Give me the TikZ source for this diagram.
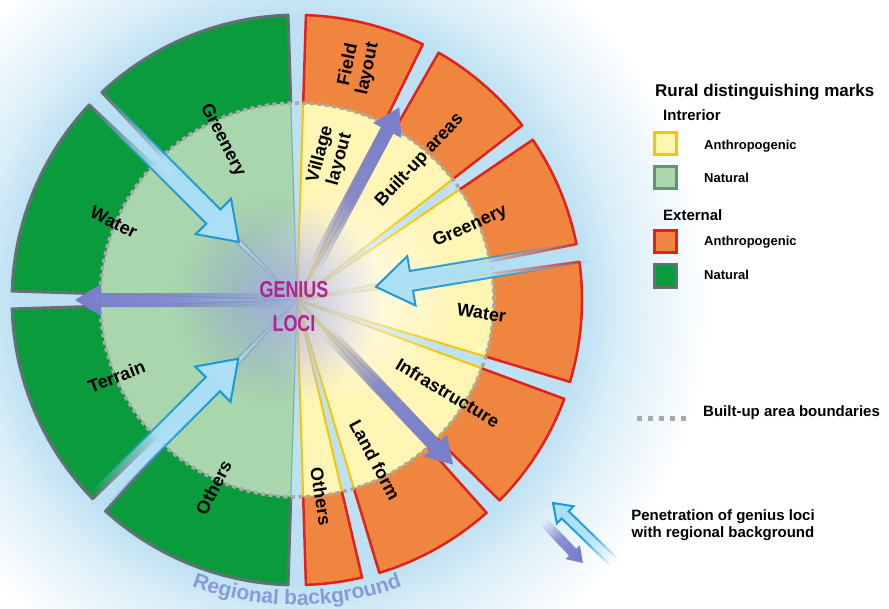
\documentclass[tikz,border=0pt]{standalone}
\usepackage{fontspec}
\setmainfont{Liberation Sans}
\usetikzlibrary{calc,fadings,decorations.text}

\definecolor{outgreen}{HTML}{0A9B3D}
\definecolor{ingreen}{HTML}{A9D6AC}
\definecolor{greenrim}{HTML}{627272}
\definecolor{ingreenrim}{HTML}{7DB892}
\definecolor{outorange}{HTML}{F0853F}
\definecolor{orangerim}{HTML}{E3211C}
\definecolor{inyellow}{HTML}{FFF5B5}
\definecolor{yellowrim}{HTML}{F6C600}
\definecolor{halo}{HTML}{BDE1F2}
\definecolor{haze}{HTML}{8A92E0}
\definecolor{genius}{HTML}{B3228D}
\definecolor{inflowfill}{HTML}{ABDFF7}
\definecolor{inflowrim}{HTML}{1C98D6}
\definecolor{outflowfill}{HTML}{7A7FCB}
\definecolor{regional}{HTML}{8A9AD6}
\definecolor{boundgray}{HTML}{A9A9A9}

\pgfdeclareradialshading{haloshade}{\pgfpoint{0bp}{0bp}}{color(0bp)=(halo); color(16.5bp)=(halo); color(19bp)=(halo!55!white); color(24bp)=(white); color(50bp)=(white)}

\tikzfading[name=tailfade, left color=transparent!100, right color=transparent!0, middle color=transparent!15]
\tikzfading[name=hazefade, inner color=transparent!20, outer color=transparent!100]
\tikzfading[name=softfade, inner color=transparent!35, outer color=transparent!100]

% style, tail, tip, fading angle, half shaft, half head, head length
\newcommand{\flowarrow}[7]{%
	\path ($(#3)!#7!(#2)$) coordinate (hb);
	\filldraw[#1, path fading=tailfade, fading angle=#4] ($(#2)!#5!90:(#3)$) -- ($(hb)!#5!90:(#3)$) -- ($(hb)!#6!90:(#3)$) -- (#3) -- ($(hb)!#6!-90:(#3)$) -- ($(hb)!#5!-90:(#3)$) -- ($(#2)!#5!-90:(#3)$) -- cycle;
}

\tikzset{
	inner natural/.style={fill=ingreen, draw=ingreenrim, line width=1.2pt},
	outer natural/.style={fill=outgreen},
	natural rim/.style={draw=greenrim, line width=3pt, line join=round},
	inner anthro/.style={fill=inyellow, draw=yellowrim, line width=2pt},
	outer anthro/.style={fill=outorange},
	anthro rim/.style={draw=orangerim, line width=2.5pt, line join=round},
	boundary/.style={draw=boundgray, line width=3.5pt, dash pattern=on 4pt off 3.5pt},
	lbl/.style={font=\bfseries\fontsize{18}{20}\selectfont, inner sep=0pt, align=center},
	geniustext/.style={font=\bfseries\fontsize{23}{23}\selectfont, text=genius, inner sep=0pt},
	inflow/.style={fill=inflowfill, draw=inflowrim, line width=2pt, line join=miter},
	outflow/.style={fill=outflowfill, draw=none},
	keybox/.style={minimum size=22pt, line width=3pt, inner sep=0pt},
	keytext/.style={font=\bfseries\fontsize{13}{15}\selectfont, anchor=west, inner sep=0pt},
	keyhead/.style={font=\bfseries\fontsize{15}{17}\selectfont, anchor=west, inner sep=0pt},
}

\begin{document}
\begin{tikzpicture}[x=1pt, y=1pt]
	\useasboundingbox (-297,-308) rectangle (592,300);
	\fill[white] (-297,-308) rectangle (592,300);
	\shade[shading=haloshade] (0,0) circle (430);

	% interior and external marks, anthropogenic side
	\foreach \a/\b in {90/62, 62/36, 36/9.5, 9.5/-18.5, -18.5/-46.5, -46.5/-75, -75/-90}{
		\draw[inner anthro] (0,0) -- ({\a-1.8}:197) arc[start angle=\a-1.8, end angle=\b+1.8, radius=197] -- cycle;
		\fill[outer anthro] ({\a-1.8}:197) -- ({\a-1.8}:285) arc[start angle=\a-1.8, end angle=\b+1.8, radius=285] -- ({\b+1.8}:197) arc[start angle=\b+1.8, end angle=\a-1.8, radius=197] -- cycle;
		\draw[anthro rim] ({\a-1.8}:197) -- ({\a-1.8}:285) arc[start angle=\a-1.8, end angle=\b+1.8, radius=285] -- ({\b+1.8}:197);
	}
	% natural side
	\foreach \a/\b in {90/135, 135/180, 180/226, 226/270}{
		\draw[inner natural] (0,0) -- ({\a+1.8}:197) arc[start angle=\a+1.8, end angle=\b-1.8, radius=197] -- cycle;
		\fill[outer natural] ({\a+1.8}:197) -- ({\a+1.8}:285) arc[start angle=\a+1.8, end angle=\b-1.8, radius=285] -- ({\b-1.8}:197) arc[start angle=\b-1.8, end angle=\a+1.8, radius=197] -- cycle;
		\draw[natural rim] ({\a+1.8}:197) -- ({\a+1.8}:285) arc[start angle=\a+1.8, end angle=\b-1.8, radius=285] -- ({\b-1.8}:197);
	}
	\draw[boundary] (0,0) circle (197);

	\fill[white, path fading=hazefade] (50,5) circle (110);
	\fill[haze, path fading=softfade] (-20,0) circle (105);

	\coordinate (inA0) at (135:305);
	\coordinate (inA1) at (135:82);
	\coordinate (inB0) at (9.5:305);
	\coordinate (inB1) at (9.5:80);
	\coordinate (inC0) at (225:305);
	\coordinate (inC1) at (225:83);
	\coordinate (outA0) at (180:15);
	\coordinate (outA1) at (180:222);
	\coordinate (outB0) at (62:15);
	\coordinate (outB1) at (62:218);
	\coordinate (outC0) at (-46.5:15);
	\coordinate (outC1) at (-46.5:227);

	\flowarrow{outflow}{outA0}{outA1}{180}{7pt}{16pt}{26pt}
	\flowarrow{outflow}{outB0}{outB1}{62}{7pt}{16pt}{26pt}
	\flowarrow{outflow}{outC0}{outC1}{-46.5}{7pt}{16pt}{26pt}
	\flowarrow{inflow}{inA0}{inA1}{-45}{10pt}{25pt}{36pt}
	\flowarrow{inflow}{inB0}{inB1}{189.5}{10pt}{25pt}{36pt}
	\flowarrow{inflow}{inC0}{inC1}{45}{10pt}{25pt}{36pt}

	\node[geniustext] (gen) at (-3,10) {\scalebox{0.78}[1]{GENIUS}};
	\node[geniustext] (loci) at (-3,-24) {\scalebox{0.78}[1]{LOCI}};

	\node[lbl, rotate=-63] (lgreenery) at (115:176) {Greenery};
	\node[lbl, rotate=-26] (lwater) at (157:199) {Water};
	\node[lbl, rotate=21] (lterrain) at (203:196) {Terrain};
	\node[lbl, rotate=63] (lothers) at (246:205) {Others};

	\node[lbl, rotate=78] (rfield) at (75.3:241) {Field\\layout};
	\node[lbl, rotate=75] (rvillage) at (77:147) {Village\\layout};
	\node[lbl, rotate=47] (rbuilt) at (48.7:186) {Built-up areas};
	\node[lbl, rotate=24] (rgreenery) at (22.9:188) {Greenery};
	\node[lbl, rotate=-8] (rwater) at (-4:185) {Water};
	\node[lbl, rotate=-31] (rinfra) at (-31.6:177) {Infrastructure};
	\node[lbl, rotate=-62] (rland) at (-64:178) {Land form};
	\node[lbl, rotate=-81] (rothers) at (-83:198) {Others};

	\path[decorate, decoration={text along path, text align=center, text={|\bfseries\fontsize{21}{21}\selectfont\color{regional}|Regional background}}] (-122:305) arc[start angle=-122, end angle=-58, radius=305];

	% legend
	\node[keyhead, font=\bfseries\fontsize{17}{19}\selectfont] (marks) at (358,208) {Rural distinguishing marks};
	\node[keyhead] (interior) at (366,185) {Intrerior};
	\node[keybox, fill=inyellow, draw=yellowrim] (boxA) at (368.5,156.5) {};
	\node[keytext] (txtA) at (407,154) {Anthropogenic};
	\node[keybox, fill=ingreen, draw=ingreenrim!80!black] (boxB) at (368.5,122) {};
	\node[keytext] (txtB) at (407,122) {Natural};
	\node[keyhead] (exterior) at (366,85) {External};
	\node[keybox, fill=outorange, draw=orangerim] (boxC) at (368.5,58) {};
	\node[keytext] (txtC) at (407,58) {Anthropogenic};
	\node[keybox, fill=outgreen, draw=greenrim] (boxD) at (368.5,24) {};
	\node[keytext] (txtD) at (407,25) {Natural};

	\coordinate (dashl) at (340,-118);
	\coordinate (dashr) at (390,-118);
	\draw[draw=boundgray, line width=5pt, dash pattern=on 5pt off 6pt] (dashl) -- (dashr);
	\node[keyhead] (boundtxt) at (406,-113) {Built-up area boundaries};

	\coordinate (keyin0) at (323,-268);
	\coordinate (keyin1) at (256,-203);
	\coordinate (keyout0) at (243,-218);
	\coordinate (keyout1) at (286,-263);
	\flowarrow{outflow}{keyout0}{keyout1}{-46}{5pt}{10pt}{15pt}
	\flowarrow{inflow}{keyin0}{keyin1}{136}{5pt}{12pt}{17pt}
	\node[keyhead, anchor=center, align=center] (pentxt) at (426,-225) {Penetration of genius loci\\with regional background};
\end{tikzpicture}
\end{document}
